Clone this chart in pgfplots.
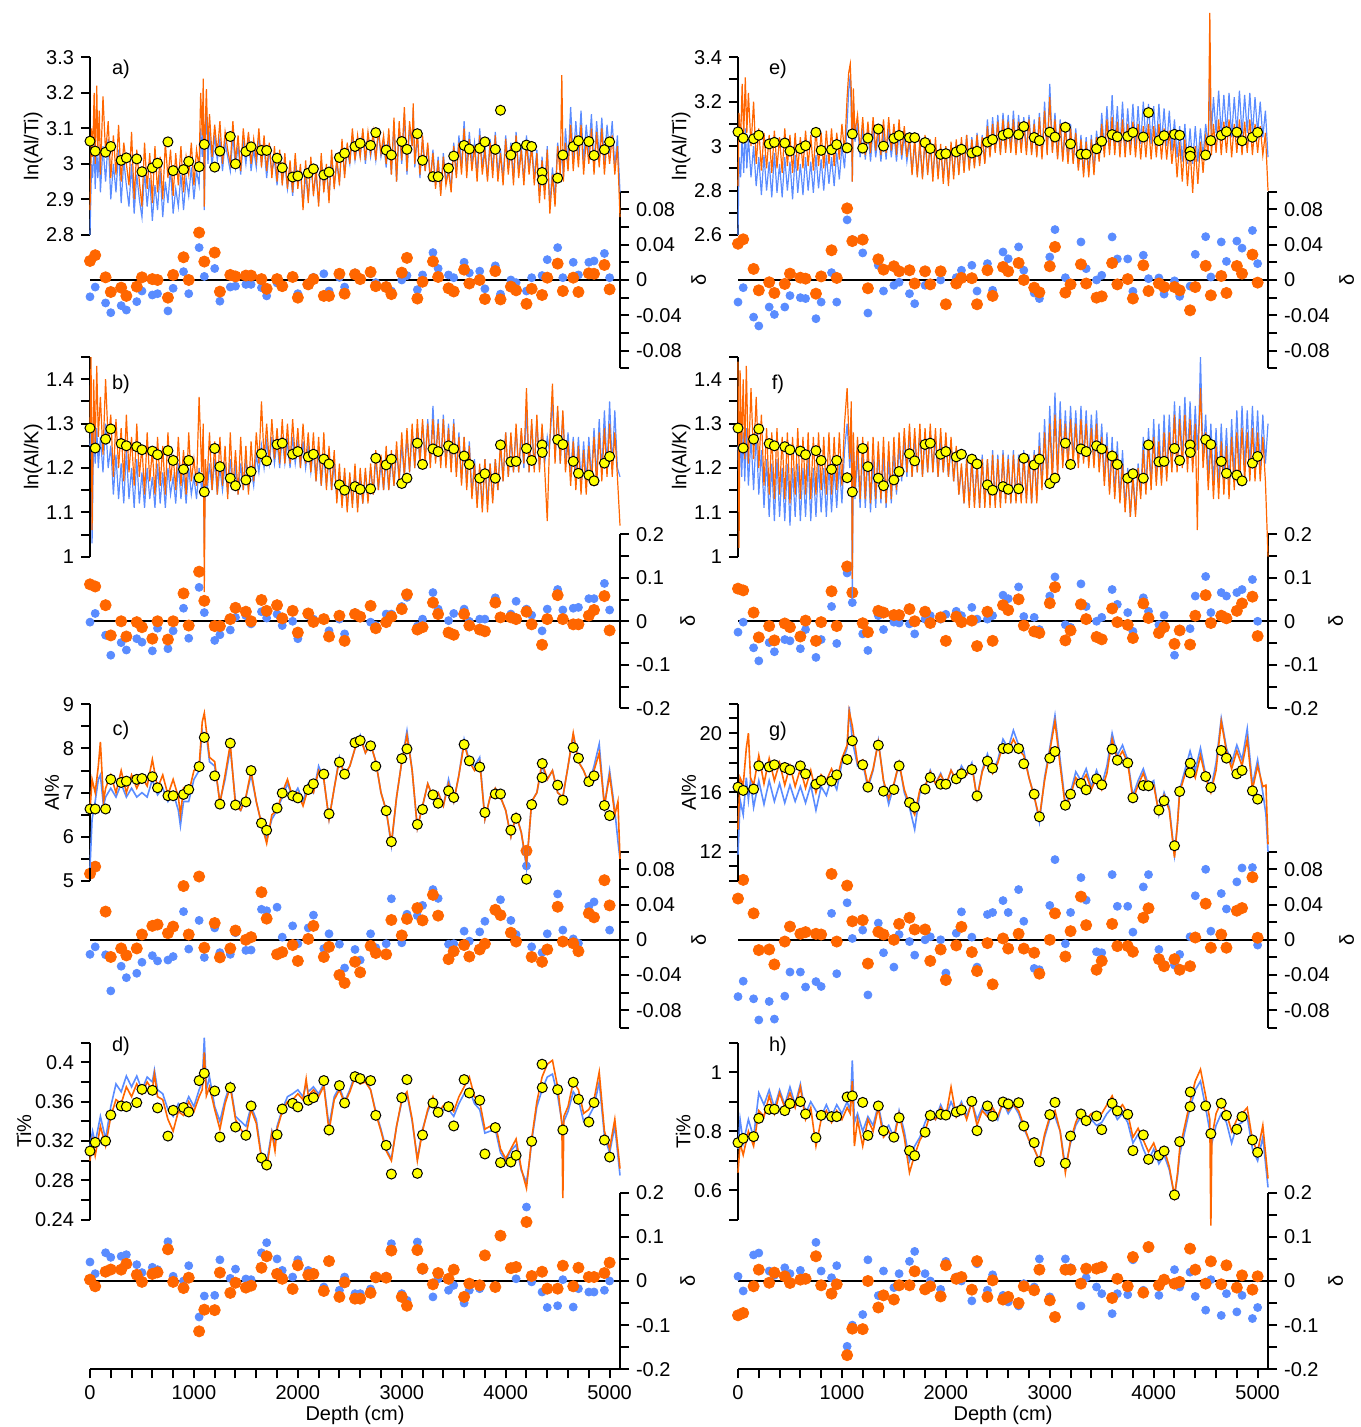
\documentclass[border=0pt]{standalone}
\usepackage{fontspec}
\setmainfont{Liberation Sans}
\usepackage{pgfplots}
\usepackage{pgfplotstable}
\pgfplotsset{compat=1.18}
\definecolor{blueC}{RGB}{90,140,255}
\definecolor{orangeC}{RGB}{255,102,0}
\definecolor{yellowC}{RGB}{255,255,0}

\pgfplotsset{
  base/.style={scale only axis, width=265pt, xmin=0, xmax=5100, clip=false,
    axis line style={line width=1pt}, every tick/.style={line width=1pt, black},
    major tick length=4.5pt, minor tick length=4.5pt,
    tick label style={font=\fontsize{10}{12}\selectfont},
    label style={font=\fontsize{10}{12}\selectfont},
    /pgf/number format/assume math mode=true, scaled y ticks=false,
    yticklabel style={/pgf/number format/fixed,/pgf/number format/precision=2}},
  curve/.style={base, axis y line*=left, axis x line=none, tick align=outside,
    ylabel style={yshift=-5pt}},
  delta/.style={base, axis y line*=right, tick align=outside, ylabel={δ},
    ylabel style={yshift=2pt}},
  dA/.style={delta, axis x line=none, ymin=-0.1, ymax=0.1, ytick={-0.08,-0.04,0,0.04,0.08},
    minor ytick={-0.1,-0.06,-0.02,0.02,0.06,0.1}},
  dB/.style={delta, ymin=-0.2, ymax=0.2, ytick={-0.2,-0.1,0,0.1,0.2},
    minor ytick={-0.15,-0.05,0.05,0.15}},
  nox/.style={axis x line=none},
  depthax/.style={axis x line*=bottom, xtick={0,1000,2000,3000,4000,5000},
    minor x tick num=4, xlabel={Depth (cm)}, xlabel style={yshift=3.5pt},
    xticklabel style={/pgf/number format/1000 sep={}}},
}
\newcommand{\twolines}[2]{%
  \addplot[blueC, line width=#2] table[x=d,y=B]{#1};
  \addplot[orangeC, line width=#2] table[x=d,y=O]{#1};}
\newcommand{\yeldots}[1]{%
  \addplot[only marks, mark=*, mark size=2.5pt, mark options={fill=yellowC, draw=black, line width=0.5pt}] table[x=dy,y=y]{#1};}
\newcommand{\deltadots}[1]{%
  \draw[line width=1pt] (axis cs:0,0) -- (axis cs:5100,0);
  \addplot[only marks, mark=*, mark size=2pt, blueC] table[x=dep,y=bl]{#1};
  \addplot[only marks, mark=*, mark size=2.8pt, orangeC] table[x=dep,y=or]{#1};}

% ---- curves (d = depth cm, B = blue, O = orange)
\pgfplotstableread{
d B O
0 2.80 2.87
15 3.00 3.10
25 2.96 3.02
40 3.06 3.20
50 2.93 3.00
65 3.05 3.22
75 2.96 3.04
90 3.03 3.15
100 2.92 2.97
125 3.05 3.19
150 2.95 3.03
175 3.07 3.12
200 2.90 2.96
225 3.00 3.08
250 2.92 2.97
275 3.04 3.11
300 2.89 2.95
325 3.01 3.06
350 2.94 3.00
375 2.88 2.94
400 3.00 3.09
425 2.86 2.90
450 2.97 3.04
475 2.90 2.95
500 2.85 2.88
525 2.98 3.06
550 2.88 2.93
575 2.96 3.03
600 2.84 2.89
625 2.94 3.05
650 2.87 2.92
675 2.98 3.02
700 2.85 2.90
725 2.95 3.06
750 2.89 2.96
775 2.99 3.04
800 2.86 2.91
825 2.93 3.03
850 2.88 2.94
875 2.97 3.05
900 2.87 2.92
925 2.96 3.02
950 2.91 2.97
975 2.99 3.06
1000 2.90 2.94
1025 2.98 3.04
1050 2.94 2.99
1065 3.10 3.20
1080 3.02 3.08
1090 3.16 3.24
1100 2.87 2.88
1110 3.08 3.12
1120 3.15 3.21
1135 3.00 3.05
1150 3.09 3.14
1175 2.99 3.02
1200 3.08 3.11
1225 3.01 3.03
1250 3.07 3.12
1275 2.98 3.00
1300 3.06 3.09
1325 3.02 3.04
1350 2.98 3.00
1375 3.08 3.12
1400 2.99 3.01
1425 3.05 3.08
1450 2.97 2.98
1475 3.06 3.10
1500 3.00 3.02
1525 3.08 3.09
1550 2.98 3.00
1575 3.04 3.07
1600 2.99 3.01
1625 3.08 3.10
1650 3.00 2.99
1675 3.05 3.08
1700 2.96 2.98
1725 3.04 3.06
1750 2.98 2.96
1775 3.01 3.05
1800 2.94 2.95
1825 3.03 3.04
1850 2.95 2.94
1875 3.00 3.03
1900 2.93 2.93
1925 2.99 3.01
1950 2.91 2.92
1975 3.00 3.03
2000 2.94 2.93
2025 2.98 3.00
2050 2.88 2.87
2075 2.97 3.01
2100 2.90 2.89
2125 3.00 3.02
2150 2.92 2.91
2175 2.97 2.99
2200 2.89 2.88
2225 3.01 3.03
2250 2.93 2.92
2275 2.98 3.00
2300 2.91 2.89
2325 3.02 3.04
2350 2.94 2.93
2375 3.00 3.02
2400 2.95 2.94
2425 3.06 3.07
2450 2.97 2.96
2475 3.04 3.06
2500 3.00 3.00
2525 3.08 3.10
2550 3.01 3.01
2575 3.06 3.08
2600 3.02 3.02
2625 3.09 3.10
2650 3.00 3.01
2675 3.08 3.09
2700 3.02 3.03
2725 3.07 3.09
2750 3.01 3.01
2775 3.09 3.10
2800 3.02 3.03
2825 3.06 3.08
2850 2.99 3.00
2875 3.08 3.10
2900 2.97 2.97
2925 3.11 3.13
2950 2.95 2.95
2975 3.09 3.12
3000 3.00 3.01
3025 3.14 3.16
3050 2.97 2.98
3075 3.10 3.12
3100 3.05 3.05
3110 3.15 3.17
3125 2.99 3.00
3150 3.08 3.09
3175 2.96 2.97
3200 3.07 3.08
3225 2.98 2.98
3250 3.05 3.06
3275 2.95 2.95
3300 3.04 3.03
3325 2.94 2.93
3350 3.02 3.01
3375 2.92 2.91
3400 3.03 3.02
3425 2.95 2.94
3450 2.99 2.98
3475 2.93 2.92
3500 3.06 3.05
3525 2.97 2.96
3550 3.08 3.06
3575 2.99 2.97
3600 3.12 3.10
3625 2.98 2.96
3650 3.09 3.07
3675 3.00 2.98
3700 3.06 3.05
3725 2.97 2.95
3750 3.10 3.08
3775 2.99 2.97
3800 3.05 3.04
3825 2.96 2.95
3850 3.07 3.06
3875 2.98 2.96
3900 3.09 3.08
3925 2.97 2.95
3950 3.04 3.03
3975 2.96 2.94
4000 3.08 3.07
4025 2.99 2.97
4050 3.06 3.05
4075 2.96 2.94
4100 3.09 3.08
4125 2.98 2.96
4150 3.05 3.04
4175 2.95 2.94
4200 3.08 3.06
4225 2.99 2.97
4250 3.06 3.05
4275 2.96 2.94
4300 3.04 3.03
4325 2.91 2.89
4350 3.02 3.01
4375 2.93 2.90
4400 3.05 3.04
4425 2.88 2.86
4450 2.99 2.97
4475 2.90 2.88
4500 3.06 3.05
4525 2.99 2.97
4540 3.04 3.25
4555 2.96 2.95
4575 3.10 3.06
4600 3.00 2.98
4625 3.16 3.11
4650 3.01 2.98
4675 3.12 3.08
4700 3.02 2.99
4725 3.15 3.11
4750 3.00 2.97
4775 3.11 3.07
4800 3.03 3.00
4825 3.14 3.10
4850 2.99 2.97
4875 3.12 3.09
4900 3.02 2.99
4925 3.13 3.10
4950 3.00 2.97
4975 3.11 3.07
5000 3.03 3.00
5025 3.12 3.08
5050 2.99 2.97
5075 3.08 3.05
5100 2.92 2.85
}\curA
\pgfplotstableread{
d B O
0 1.25 1.30
10 1.30 1.45
20 1.03 1.06
35 1.28 1.40
50 1.21 1.25
65 1.29 1.43
80 1.20 1.27
100 1.27 1.36
125 1.19 1.23
150 1.30 1.40
175 1.20 1.26
200 1.25 1.32
225 1.14 1.18
250 1.23 1.31
275 1.13 1.20
300 1.21 1.29
325 1.12 1.17
350 1.24 1.32
375 1.13 1.19
400 1.20 1.27
425 1.11 1.16
450 1.22 1.30
475 1.12 1.18
500 1.19 1.25
525 1.11 1.14
550 1.20 1.28
575 1.13 1.17
600 1.18 1.24
625 1.11 1.14
650 1.21 1.27
675 1.12 1.16
700 1.19 1.25
725 1.11 1.14
750 1.20 1.28
775 1.14 1.17
800 1.18 1.23
825 1.12 1.15
850 1.21 1.27
875 1.13 1.16
900 1.19 1.24
925 1.12 1.14
950 1.20 1.28
975 1.14 1.17
1000 1.18 1.22
1025 1.13 1.16
1050 1.20 1.36
1075 1.15 1.19
1090 1.18 1.30
1100 1.03 0.92
1110 1.20 1.22
1125 1.14 1.16
1150 1.21 1.28
1175 1.15 1.15
1200 1.22 1.26
1225 1.14 1.14
1250 1.20 1.27
1275 1.15 1.16
1300 1.21 1.25
1325 1.14 1.13
1350 1.22 1.28
1375 1.15 1.15
1400 1.20 1.24
1425 1.14 1.14
1450 1.21 1.27
1475 1.15 1.15
1500 1.22 1.25
1525 1.15 1.14
1550 1.20 1.26
1575 1.16 1.17
1600 1.23 1.28
1625 1.19 1.21
1650 1.25 1.35
1675 1.20 1.22
1700 1.26 1.30
1725 1.21 1.21
1750 1.27 1.31
1775 1.21 1.22
1800 1.26 1.29
1825 1.20 1.21
1850 1.27 1.31
1875 1.21 1.21
1900 1.26 1.30
1925 1.20 1.21
1950 1.27 1.31
1975 1.21 1.22
2000 1.26 1.29
2025 1.20 1.20
2050 1.26 1.30
2075 1.20 1.21
2100 1.25 1.28
2125 1.19 1.19
2150 1.24 1.28
2175 1.17 1.17
2200 1.24 1.27
2225 1.16 1.16
2250 1.23 1.28
2275 1.16 1.15
2300 1.22 1.25
2325 1.15 1.15
2350 1.21 1.24
2375 1.13 1.12
2400 1.19 1.21
2425 1.12 1.11
2450 1.19 1.20
2475 1.11 1.10
2500 1.18 1.19
2525 1.12 1.11
2550 1.19 1.21
2575 1.11 1.10
2600 1.18 1.20
2625 1.12 1.12
2650 1.19 1.20
2675 1.13 1.12
2700 1.20 1.21
2725 1.14 1.14
2750 1.22 1.24
2775 1.15 1.15
2800 1.21 1.23
2825 1.15 1.15
2850 1.22 1.25
2875 1.15 1.15
2900 1.22 1.24
2925 1.16 1.16
2950 1.24 1.26
2975 1.17 1.17
3000 1.25 1.28
3025 1.18 1.18
3050 1.27 1.29
3075 1.19 1.19
3100 1.28 1.30
3125 1.20 1.20
3150 1.29 1.31
3175 1.21 1.21
3200 1.30 1.31
3225 1.22 1.21
3250 1.31 1.30
3275 1.21 1.20
3300 1.34 1.31
3325 1.22 1.21
3350 1.31 1.30
3375 1.21 1.20
3400 1.32 1.31
3425 1.21 1.20
3450 1.30 1.29
3475 1.20 1.19
3500 1.31 1.30
3525 1.19 1.18
3550 1.28 1.27
3575 1.17 1.16
3600 1.27 1.27
3625 1.16 1.15
3650 1.26 1.25
3675 1.14 1.13
3700 1.22 1.21
3725 1.12 1.11
3750 1.20 1.21
3775 1.11 1.10
3800 1.22 1.22
3825 1.12 1.10
3850 1.21 1.21
3875 1.13 1.12
3900 1.22 1.22
3925 1.15 1.15
3950 1.25 1.26
3975 1.17 1.17
4000 1.28 1.28
4025 1.18 1.18
4050 1.27 1.28
4075 1.19 1.19
4100 1.29 1.30
4125 1.19 1.19
4150 1.28 1.29
4175 1.20 1.21
4200 1.33 1.38
4225 1.19 1.19
4250 1.30 1.31
4275 1.20 1.19
4300 1.31 1.32
4325 1.20 1.19
4350 1.29 1.30
4375 1.21 1.20
4400 1.27 1.08
4420 1.24 1.24
4450 1.35 1.39
4475 1.22 1.21
4500 1.33 1.34
4525 1.21 1.21
4550 1.32 1.33
4575 1.21 1.19
4600 1.28 1.26
4625 1.19 1.16
4650 1.27 1.26
4675 1.18 1.15
4700 1.27 1.25
4725 1.17 1.14
4750 1.26 1.24
4775 1.17 1.14
4800 1.27 1.25
4825 1.18 1.16
4850 1.29 1.27
4875 1.18 1.16
4900 1.31 1.28
4925 1.19 1.17
4950 1.33 1.29
4975 1.20 1.18
5000 1.35 1.30
5025 1.20 1.18
5050 1.33 1.28
5075 1.20 1.18
5100 1.18 1.07
}\curB
\pgfplotstableread{
d B O
0 5.30 6.60
20 6.40 7.30
50 6.80 7.00
80 7.30 7.60
100 7.40 8.15
130 6.70 6.80
150 6.90 7.10
200 7.10 7.40
250 6.90 7.00
300 7.20 7.50
350 6.90 7.00
400 7.10 7.40
450 6.90 7.10
500 7.00 7.35
550 6.90 7.15
600 7.30 7.75
650 6.95 7.10
700 7.10 7.40
750 6.80 6.95
800 7.00 7.30
850 6.60 6.90
870 6.25 6.50
900 6.80 7.10
950 6.80 7.00
1000 7.30 7.50
1050 7.50 7.60
1080 8.40 8.60
1100 8.20 8.80
1120 8.30 8.40
1150 7.70 7.80
1200 7.60 7.70
1250 6.80 6.75
1300 7.30 7.40
1350 8.00 8.10
1400 6.80 6.70
1450 6.60 6.60
1500 6.90 6.90
1550 7.40 7.50
1600 6.80 6.80
1650 6.30 6.30
1700 5.95 5.85
1750 6.40 6.50
1800 6.60 6.60
1850 6.90 7.00
1900 7.20 7.30
1950 6.90 6.90
2000 7.10 7.00
2050 6.80 6.70
2100 7.20 7.10
2150 7.00 7.00
2200 7.60 7.50
2250 7.30 7.30
2300 6.40 6.40
2350 7.10 7.10
2400 7.80 7.75
2450 7.40 7.40
2500 7.60 7.60
2550 8.00 8.00
2600 8.30 8.25
2650 7.90 7.90
2700 8.10 8.10
2750 7.70 7.70
2800 7.00 7.00
2850 6.60 6.60
2900 5.80 5.85
2950 6.90 6.90
3000 7.70 7.70
3050 8.40 8.30
3100 7.50 7.50
3150 6.20 6.20
3200 6.70 6.70
3250 7.20 7.20
3300 6.90 6.90
3350 7.00 7.00
3400 6.70 6.70
3450 7.30 7.20
3500 6.80 6.80
3550 7.40 7.40
3600 8.20 8.10
3650 7.70 7.70
3700 7.60 7.50
3750 7.80 7.70
3800 6.40 6.40
3850 6.90 6.90
3900 7.10 7.10
3950 6.90 6.90
4000 6.60 6.60
4050 6.00 6.00
4100 6.50 6.50
4150 6.10 6.10
4200 5.30 5.40
4220 5.90 5.90
4250 6.80 6.80
4300 7.00 7.00
4350 7.60 7.70
4400 7.30 7.30
4450 7.50 7.50
4500 7.00 7.00
4550 6.90 6.90
4600 7.60 7.60
4650 8.30 8.35
4700 7.70 7.70
4750 7.50 7.50
4800 7.20 7.20
4850 7.60 7.50
4900 8.10 7.90
4950 6.70 6.70
5000 7.50 7.40
5050 6.60 6.50
5080 5.90 6.80
5100 5.50 5.50
}\curC
\pgfplotstableread{
d B O
0 0.315 0.300
25 0.330 0.320
50 0.318 0.305
100 0.345 0.335
150 0.322 0.315
200 0.355 0.345
250 0.378 0.362
300 0.370 0.358
350 0.386 0.375
400 0.375 0.365
450 0.386 0.378
500 0.372 0.368
550 0.385 0.380
600 0.380 0.372
620 0.392 0.388
650 0.372 0.365
700 0.368 0.362
750 0.352 0.342
800 0.345 0.330
850 0.358 0.350
900 0.352 0.346
950 0.365 0.360
1000 0.355 0.350
1050 0.372 0.365
1080 0.380 0.372
1100 0.425 0.410
1120 0.372 0.366
1150 0.385 0.375
1200 0.355 0.352
1250 0.340 0.332
1300 0.362 0.358
1350 0.378 0.375
1400 0.345 0.342
1450 0.340 0.332
1500 0.335 0.325
1550 0.355 0.352
1600 0.342 0.338
1650 0.305 0.302
1700 0.298 0.292
1750 0.330 0.328
1780 0.318 0.310
1800 0.335 0.332
1850 0.352 0.350
1900 0.365 0.360
1950 0.368 0.362
2000 0.372 0.368
2050 0.365 0.362
2080 0.378 0.383
2100 0.370 0.366
2150 0.375 0.372
2200 0.368 0.365
2250 0.378 0.376
2300 0.335 0.330
2350 0.365 0.362
2400 0.375 0.372
2450 0.360 0.358
2500 0.372 0.370
2550 0.388 0.385
2600 0.378 0.378
2650 0.382 0.380
2700 0.372 0.372
2750 0.350 0.348
2800 0.332 0.330
2850 0.312 0.310
2900 0.302 0.300
2950 0.335 0.335
3000 0.360 0.362
3050 0.368 0.370
3100 0.340 0.342
3150 0.302 0.300
3200 0.332 0.330
3250 0.350 0.352
3300 0.362 0.365
3350 0.345 0.348
3400 0.352 0.356
3450 0.352 0.358
3500 0.345 0.350
3550 0.358 0.365
3600 0.368 0.375
3650 0.372 0.385
3700 0.358 0.365
3750 0.352 0.360
3800 0.328 0.332
3850 0.330 0.335
3900 0.332 0.338
3950 0.308 0.312
4000 0.300 0.302
4050 0.310 0.312
4100 0.316 0.322
4150 0.290 0.292
4200 0.278 0.272
4230 0.300 0.302
4250 0.320 0.322
4300 0.355 0.360
4350 0.372 0.385
4400 0.385 0.398
4450 0.388 0.402
4500 0.366 0.375
4540 0.340 0.338
4550 0.338 0.262
4560 0.340 0.345
4600 0.350 0.355
4650 0.370 0.380
4700 0.362 0.372
4750 0.340 0.348
4800 0.345 0.352
4850 0.355 0.362
4900 0.380 0.390
4950 0.325 0.330
5000 0.308 0.312
5050 0.335 0.342
5100 0.285 0.292
}\curD
\pgfplotstableread{
d B O
0 2.60 2.82
10 2.95 3.15
25 2.86 3.02
40 3.05 3.28
55 2.88 3.04
70 3.08 3.31
85 2.90 3.06
100 3.04 3.24
125 2.86 3.00
150 3.00 3.20
175 2.82 2.92
200 2.95 3.08
225 2.78 2.89
250 2.96 3.06
275 2.80 2.90
300 2.93 3.05
325 2.77 2.88
350 2.97 3.07
375 2.79 2.90
400 2.92 3.04
425 2.77 2.88
450 2.95 3.08
475 2.80 2.91
500 2.93 3.05
525 2.76 2.88
550 2.96 3.06
575 2.79 2.89
600 2.92 3.04
625 2.78 2.90
650 2.95 3.07
675 2.80 2.91
700 2.93 3.05
725 2.79 2.89
750 2.96 3.08
775 2.81 2.91
800 2.94 3.06
825 2.80 2.90
850 2.96 3.07
875 2.83 2.92
900 2.95 3.08
925 2.82 2.91
950 2.97 3.06
975 2.85 2.94
1000 3.00 3.10
1025 2.90 2.97
1050 3.10 3.22
1065 3.25 3.33
1080 3.32 3.37
1090 3.15 3.25
1100 2.84 2.84
1110 3.20 3.26
1125 3.02 3.06
1150 3.10 3.14
1175 2.95 2.98
1200 3.08 3.13
1225 2.94 2.96
1250 3.07 3.11
1275 2.93 2.97
1300 3.08 3.13
1325 2.95 2.98
1350 3.06 3.10
1375 2.93 2.96
1400 3.07 3.12
1425 2.94 2.97
1450 3.08 3.13
1475 2.95 2.98
1500 3.06 3.10
1525 2.93 2.96
1550 3.07 3.12
1575 2.94 2.96
1600 3.05 3.09
1625 2.93 2.95
1650 3.02 3.05
1675 2.88 2.87
1700 3.01 3.04
1725 2.87 2.86
1750 3.00 3.03
1775 2.86 2.85
1800 3.02 3.05
1825 2.88 2.87
1850 3.00 3.03
1875 2.86 2.84
1900 3.01 3.04
1925 2.87 2.85
1950 2.99 3.01
1975 2.86 2.83
2000 2.98 3.00
2025 2.85 2.82
2050 3.00 3.02
2075 2.87 2.85
2100 3.01 3.03
2125 2.88 2.87
2150 3.02 3.04
2175 2.89 2.88
2200 3.05 3.05
2225 2.90 2.89
2250 3.04 3.03
2275 2.91 2.90
2300 3.06 3.05
2325 2.92 2.91
2350 3.05 3.04
2375 2.93 2.92
2400 3.12 3.09
2425 2.96 2.95
2450 3.13 3.10
2475 2.98 2.97
2500 3.14 3.11
2525 2.97 2.96
2550 3.15 3.12
2575 2.99 2.97
2600 3.14 3.11
2625 2.98 2.97
2650 3.16 3.12
2675 2.98 2.96
2700 3.14 3.11
2725 2.99 2.97
2750 3.13 3.11
2775 2.98 2.96
2800 3.14 3.12
2825 2.97 2.96
2850 3.12 3.10
2875 2.96 2.95
2900 3.15 3.13
2925 2.95 2.94
2950 3.20 3.16
2975 2.97 2.96
3000 3.28 3.22
3025 2.98 2.97
3050 3.15 3.12
3075 2.95 2.94
3100 3.12 3.10
3125 2.94 2.93
3150 3.11 3.09
3175 2.93 2.92
3200 3.10 3.08
3225 2.93 2.92
3250 3.08 3.06
3275 2.90 2.89
3300 3.05 3.03
3325 2.88 2.86
3350 3.04 3.02
3375 2.88 2.86
3400 3.05 3.03
3425 2.89 2.87
3450 3.07 3.04
3475 2.95 2.93
3500 3.15 3.10
3525 2.98 2.95
3550 3.18 3.12
3575 2.99 2.96
3600 3.23 3.13
3625 3.00 2.96
3650 3.18 3.11
3675 2.99 2.95
3700 3.20 3.12
3725 2.98 2.95
3750 3.17 3.10
3775 3.00 2.96
3800 3.19 3.11
3825 3.00 2.95
3850 3.18 3.10
3875 3.01 2.94
3900 3.20 3.09
3925 3.02 2.95
3950 3.19 3.10
3975 3.01 2.94
4000 3.18 3.09
4025 3.00 2.95
4050 3.19 3.10
4075 3.01 2.94
4100 3.17 3.08
4125 3.00 2.94
4150 3.16 3.07
4175 2.98 2.92
4200 3.12 3.04
4225 2.95 2.86
4250 3.09 3.02
4275 2.93 2.84
4300 3.10 3.03
4325 2.92 2.82
4350 3.08 2.99
4375 2.92 2.79
4400 3.09 3.00
4425 2.93 2.83
4450 3.08 3.02
4475 2.95 2.88
4500 3.10 3.04
4525 3.00 2.96
4540 3.28 3.60
4555 3.05 2.96
4575 3.22 3.10
4600 3.06 2.97
4625 3.25 3.12
4650 3.05 2.96
4675 3.23 3.11
4700 3.06 2.97
4725 3.24 3.12
4750 3.04 2.95
4775 3.22 3.10
4800 3.06 2.97
4825 3.25 3.12
4850 3.05 2.96
4875 3.23 3.11
4900 3.06 2.97
4925 3.24 3.12
4950 3.05 2.96
4975 3.22 3.10
5000 3.06 2.97
5025 3.20 3.09
5050 3.04 2.96
5075 3.16 3.06
5100 2.95 2.80
}\curE
\pgfplotstableread{
d B O
0 1.25 1.44
10 1.15 1.02
20 1.30 1.42
35 1.18 1.24
50 1.28 1.40
65 1.17 1.22
80 1.29 1.43
100 1.16 1.21
125 1.27 1.38
150 1.15 1.22
175 1.28 1.36
200 1.14 1.20
225 1.24 1.32
250 1.11 1.16
275 1.22 1.29
300 1.09 1.14
325 1.21 1.28
350 1.08 1.13
375 1.22 1.29
400 1.09 1.14
425 1.20 1.27
450 1.08 1.13
475 1.21 1.28
500 1.07 1.12
525 1.20 1.27
550 1.09 1.14
575 1.21 1.29
600 1.08 1.13
625 1.20 1.27
650 1.09 1.14
675 1.22 1.28
700 1.08 1.13
725 1.20 1.27
750 1.09 1.14
775 1.21 1.28
800 1.10 1.15
825 1.20 1.27
850 1.09 1.14
875 1.21 1.28
900 1.10 1.14
925 1.20 1.27
950 1.11 1.15
975 1.21 1.28
1000 1.12 1.16
1025 1.24 1.30
1050 1.30 1.38
1075 1.20 1.22
1090 1.33 1.35
1100 0.90 0.95
1110 1.25 1.28
1125 1.13 1.15
1150 1.23 1.27
1175 1.11 1.13
1200 1.24 1.27
1225 1.11 1.13
1250 1.23 1.26
1275 1.10 1.12
1300 1.22 1.27
1325 1.11 1.13
1350 1.24 1.26
1375 1.12 1.13
1400 1.23 1.27
1425 1.11 1.12
1450 1.22 1.26
1475 1.12 1.13
1500 1.24 1.27
1525 1.14 1.15
1550 1.25 1.28
1575 1.17 1.18
1600 1.27 1.29
1625 1.18 1.19
1650 1.28 1.30
1675 1.18 1.18
1700 1.27 1.29
1725 1.19 1.19
1750 1.28 1.30
1775 1.18 1.18
1800 1.27 1.29
1825 1.19 1.19
1850 1.28 1.30
1875 1.19 1.19
1900 1.27 1.29
1925 1.18 1.18
1950 1.27 1.29
1975 1.19 1.19
2000 1.26 1.28
2025 1.18 1.18
2050 1.25 1.27
2075 1.17 1.17
2100 1.24 1.25
2125 1.14 1.14
2150 1.20 1.21
2175 1.12 1.12
2200 1.22 1.22
2225 1.12 1.11
2250 1.23 1.22
2275 1.12 1.11
2300 1.22 1.21
2325 1.11 1.11
2350 1.23 1.22
2375 1.12 1.11
2400 1.22 1.22
2425 1.12 1.11
2450 1.24 1.23
2475 1.12 1.11
2500 1.23 1.22
2525 1.12 1.11
2550 1.24 1.23
2575 1.13 1.12
2600 1.23 1.22
2625 1.12 1.12
2650 1.24 1.23
2675 1.13 1.12
2700 1.23 1.22
2725 1.13 1.12
2750 1.24 1.23
2775 1.13 1.12
2800 1.23 1.22
2825 1.12 1.12
2850 1.24 1.23
2875 1.13 1.12
2900 1.28 1.25
2925 1.16 1.15
2950 1.31 1.28
2975 1.17 1.16
3000 1.34 1.30
3025 1.18 1.17
3050 1.37 1.32
3075 1.19 1.18
3100 1.35 1.31
3125 1.21 1.20
3150 1.33 1.30
3175 1.21 1.20
3200 1.34 1.31
3225 1.22 1.21
3250 1.33 1.30
3275 1.21 1.20
3300 1.34 1.31
3325 1.22 1.21
3350 1.33 1.30
3375 1.21 1.20
3400 1.32 1.29
3425 1.21 1.20
3450 1.33 1.30
3475 1.20 1.19
3500 1.30 1.27
3525 1.17 1.16
3550 1.28 1.25
3575 1.15 1.14
3600 1.27 1.24
3625 1.14 1.13
3650 1.26 1.23
3675 1.13 1.12
3700 1.24 1.21
3725 1.11 1.10
3750 1.20 1.19
3775 1.09 1.09
3800 1.19 1.18
3825 1.10 1.09
3850 1.21 1.20
3875 1.14 1.13
3900 1.27 1.24
3925 1.15 1.14
3950 1.29 1.26
3975 1.16 1.15
4000 1.31 1.27
4025 1.17 1.16
4050 1.30 1.26
4075 1.17 1.16
4100 1.32 1.28
4125 1.18 1.17
4150 1.32 1.28
4175 1.20 1.19
4200 1.35 1.32
4225 1.21 1.19
4250 1.34 1.31
4275 1.22 1.20
4300 1.36 1.32
4325 1.22 1.19
4350 1.35 1.31
4375 1.22 1.19
4400 1.34 1.30
4420 1.24 1.06
4435 1.30 1.28
4450 1.45 1.38
4475 1.22 1.20
4500 1.32 1.28
4525 1.18 1.15
4550 1.30 1.26
4575 1.16 1.13
4600 1.29 1.25
4625 1.16 1.13
4650 1.30 1.26
4675 1.17 1.14
4700 1.29 1.25
4725 1.16 1.13
4750 1.31 1.27
4775 1.18 1.15
4800 1.33 1.28
4825 1.19 1.16
4850 1.34 1.29
4875 1.20 1.17
4900 1.33 1.28
4925 1.20 1.17
4950 1.34 1.29
4975 1.21 1.17
5000 1.33 1.28
5025 1.20 1.17
5050 1.32 1.27
5075 1.21 1.17
5100 1.30 1.00
}\curF
\pgfplotstableread{
d B O
0 11.8 13.5
20 15.5 17.0
50 14.5 16.5
80 17.0 19.0
100 15.5 20.0
120 16.8 17.0
150 15.0 16.5
200 16.8 18.5
250 15.2 16.6
300 16.8 18.3
350 15.4 16.8
400 16.6 18.0
450 15.3 16.5
500 16.5 17.8
550 15.4 16.4
600 16.4 17.6
650 15.3 16.3
700 16.5 17.5
750 14.8 16.0
800 16.4 17.2
850 15.8 16.8
900 17.0 17.6
950 16.2 16.8
1000 18.0 18.3
1050 19.0 19.2
1070 21.8 21.5
1100 19.5 20.5
1150 17.8 18.0
1200 18.0 18.2
1250 16.3 16.5
1300 17.5 17.6
1350 19.5 19.4
1400 16.8 16.8
1450 15.2 15.6
1500 16.5 16.6
1550 18.0 18.0
1600 16.0 16.2
1650 15.0 15.2
1700 13.5 14.5
1750 16.0 16.2
1800 16.3 16.4
1850 17.5 17.4
1900 16.6 16.6
1950 17.3 17.2
2000 16.4 16.5
2050 17.5 17.5
2100 16.8 16.8
2150 17.8 17.6
2200 17.2 17.2
2250 18.0 17.8
2300 15.6 15.6
2350 17.5 17.4
2400 18.6 18.3
2450 17.4 17.3
2500 18.2 18.0
2550 19.6 19.2
2600 19.0 18.8
2650 20.2 19.6
2700 19.2 18.9
2750 18.8 18.5
2800 17.0 17.0
2850 15.8 15.7
2900 14.0 14.3
2950 17.0 16.8
3000 19.0 18.8
3050 21.2 20.8
3100 18.2 17.8
3150 15.2 15.0
3200 16.0 15.8
3250 17.4 17.0
3300 16.8 16.6
3350 17.6 17.2
3400 16.4 16.2
3450 17.5 17.0
3500 16.5 16.2
3550 17.8 17.3
3600 20.0 19.6
3650 18.5 18.2
3700 19.2 18.8
3750 18.2 18.0
3800 15.8 15.5
3850 16.8 16.5
3900 17.6 17.3
3950 16.5 16.3
4000 16.8 16.5
4050 14.5 14.6
4100 16.0 15.8
4150 15.0 14.8
4200 11.8 11.6
4230 14.0 14.0
4250 16.2 16.0
4300 17.5 17.2
4350 18.8 18.0
4400 17.5 17.0
4450 19.0 18.5
4500 17.2 17.0
4550 16.2 16.0
4600 18.0 17.5
4650 21.0 20.8
4700 19.0 18.8
4750 18.0 17.6
4800 19.2 18.8
4850 18.2 17.8
4900 20.3 19.6
4950 16.5 16.2
5000 18.2 17.8
5050 16.0 16.4
5080 14.5 16.5
5100 12.0 12.5
}\curG
\pgfplotstableread{
d B O
0 0.74 0.66
20 0.84 0.76
50 0.76 0.72
100 0.84 0.80
150 0.78 0.75
200 0.93 0.87
250 0.89 0.85
300 0.94 0.92
350 0.88 0.86
400 0.94 0.93
450 0.89 0.88
500 0.95 0.93
550 0.89 0.88
600 0.96 0.95
650 0.86 0.84
700 0.90 0.88
750 0.87 0.75
800 0.85 0.84
850 0.89 0.87
900 0.85 0.83
950 0.89 0.87
1000 0.86 0.84
1050 0.90 0.88
1080 0.87 0.86
1100 1.04 0.97
1120 0.83 0.75
1150 0.86 0.84
1200 0.80 0.75
1250 0.85 0.84
1300 0.82 0.80
1350 0.89 0.88
1400 0.80 0.78
1450 0.82 0.80
1500 0.78 0.77
1550 0.87 0.86
1600 0.80 0.78
1650 0.70 0.66
1700 0.75 0.72
1750 0.78 0.77
1800 0.83 0.80
1850 0.87 0.86
1900 0.84 0.84
1950 0.89 0.88
2000 0.85 0.85
2050 0.90 0.95
2100 0.86 0.85
2150 0.90 0.89
2200 0.85 0.84
2250 0.90 0.90
2300 0.84 0.82
2350 0.88 0.87
2400 0.86 0.85
2450 0.88 0.88
2500 0.84 0.85
2550 0.90 0.90
2600 0.86 0.87
2650 0.89 0.89
2700 0.86 0.87
2750 0.81 0.82
2800 0.77 0.77
2850 0.74 0.74
2900 0.70 0.70
2950 0.78 0.79
3000 0.84 0.85
3050 0.85 0.87
3100 0.80 0.80
3150 0.68 0.66
3200 0.76 0.77
3250 0.82 0.83
3300 0.85 0.87
3350 0.82 0.84
3400 0.84 0.86
3450 0.82 0.85
3500 0.83 0.86
3550 0.86 0.89
3600 0.88 0.92
3650 0.84 0.87
3700 0.86 0.89
3750 0.83 0.86
3800 0.76 0.78
3850 0.79 0.81
3900 0.74 0.77
3950 0.70 0.73
4000 0.74 0.76
4050 0.69 0.71
4100 0.72 0.74
4150 0.67 0.68
4200 0.58 0.58
4230 0.65 0.66
4250 0.72 0.74
4300 0.80 0.82
4350 0.88 0.90
4400 0.94 0.97
4450 0.97 1.01
4500 0.88 0.92
4540 0.80 0.84
4550 0.78 0.48
4560 0.76 0.78
4600 0.82 0.86
4650 0.86 0.90
4700 0.83 0.86
4750 0.76 0.80
4800 0.82 0.84
4850 0.83 0.86
4900 0.85 0.88
4950 0.74 0.77
5000 0.70 0.73
5050 0.78 0.82
5100 0.61 0.64
}\curH

% ---- samples: dep = depth, dy = depth of yellow dot, y = reference, bl/or = delta
\pgfplotstableread{
dep dy y bl or
0 0 3.064 -0.019 0.0215
50 50 3.036 -0.008 0.028
150 150 3.033 -0.026 0.003
200 200 3.049 -0.037 -0.0136
300 300 3.010 -0.029 -0.0087
350 350 3.017 -0.034 -0.018
450 450 3.014 -0.0245 -0.0075
500 500 2.978 -0.0125 0.003
600 600 2.989 -0.017 0.001
650 650 3.002 -0.0155 0
750 750 3.062 -0.035 -0.020
800 800 2.981 -0.0094 0.0057
900 900 2.984 0.0094 0.0257
950 950 3.007 -0.0155 0
1050 1050 2.992 0.0366 0.0536
1100 1100 3.055 0.004 0.0208
1200 1200 2.991 0.013 0.031
1250 1250 3.036 -0.024 -0.0132
1350 1350 3.077 -0.008 0.0057
1400 1400 3.000 -0.007 0.004
1500 1500 3.035 -0.005 0.005
1550 1550 3.048 -0.005 0.005
1650 1650 3.038 -0.0087 0.001
1700 1700 3.038 -0.018 -0.010
1800 1800 3.016 -0.0034 0.001
1850 1850 2.989 -0.008 -0.007
1950 1950 2.963 0.0026 0.0034
2000 2000 2.966 -0.0155 -0.020
2100 2100 2.974 -0.003 -0.005
2150 2150 2.986 0.003 0.001
2250 2250 2.969 0.007 -0.018
2300 2300 2.977 -0.0125 -0.018
2400 2400 3.018 0.003 0.007
2450 2450 3.030 -0.008 -0.0155
2550 2550 3.049 0.008 0.0064
2600 2600 3.058 0.001 0.001
2700 2700 3.052 0.007 0.009
2750 2750 3.088 -0.003 -0.007
2850 2850 3.039 -0.0064 -0.008
2900 2900 3.025 -0.0125 -0.016
3000 3000 3.063 0 0.0083
3050 3050 3.041 0.005 0.025
3150 3150 3.085 -0.011 -0.021
3200 3200 3.010 0.0057 -0.002
3300 3300 2.964 0.031 0.021
3350 3350 2.964 0.013 0.0034
3450 3450 2.988 0.0057 -0.0094
3500 3500 3.022 0.0026 -0.013
3600 3600 3.052 0.020 0.0117
3650 3650 3.042 0.008 -0.004
3750 3750 3.044 0.010 0
3800 3800 3.062 -0.010 -0.0215
3900 3900 3.041 0.016 0.010
3950 3950 3.151 -0.016 -0.022
4050 4050 3.025 0 -0.0075
4100 4100 3.047 -0.003 -0.0117
4200 4200 3.053 -0.0125 -0.027
4250 4250 3.049 0.0026 -0.010
4350 4350 2.976 0.005 -0.017
4400 4352 2.955 0.023 0.0026
4500 4500 2.960 0.0366 0.0185
4550 4550 3.025 0.0026 -0.0125
4650 4650 3.049 0.020 0.0026
4700 4700 3.065 0.0057 -0.0136
4800 4800 3.063 0.020 0.0075
4850 4850 3.024 0.0215 0.007
4950 4950 3.040 0.030 0.017
5000 5000 3.062 0.0026 -0.0106
}\ptA
\pgfplotstableread{
dep dy y bl or
0 0 1.290 -0.002 0.085
50 50 1.245 0.018 0.080
150 150 1.265 -0.032 0.037
200 200 1.288 -0.078 -0.0325
300 300 1.255 -0.049 0
350 350 1.250 -0.066 -0.035
450 450 1.248 -0.040 -0.002
500 500 1.241 -0.048 -0.0136
600 600 1.238 -0.068 -0.040
650 650 1.230 -0.016 0
750 750 1.239 -0.063 -0.042
800 800 1.217 -0.022 0
900 900 1.197 0.030 0.064
950 950 1.217 -0.039 -0.0098
1050 1050 1.178 0.078 0.114
1100 1100 1.146 0.020 0.047
1200 1200 1.244 -0.044 -0.011
1250 1250 1.203 -0.031 -0.011
1350 1350 1.177 -0.020 0.005
1400 1400 1.160 0.009 0.031
1500 1500 1.173 0.013 0.022
1550 1550 1.192 -0.006 0
1650 1650 1.232 0.022 0.049
1700 1700 1.216 0.0075 0.024
1800 1800 1.253 0.0166 0.037
1850 1850 1.256 -0.0098 0.0068
1950 1950 1.231 0 0.024
2000 2000 1.237 -0.040 -0.026
2100 2100 1.225 0.013 0.018
2150 2150 1.231 0.005 -0.0015
2250 2250 1.220 0.004 0.005
2300 2300 1.209 -0.022 -0.035
2400 2400 1.162 0.005 0.0128
2450 2450 1.150 -0.029 -0.045
2550 2550 1.158 0.020 0.0166
2600 2600 1.152 0.009 0.0106
2700 2700 1.153 -0.002 0.0355
2750 2750 1.222 -0.0098 -0.016
2850 2850 1.207 0.0166 -0.002
2900 2900 1.220 0.0166 0.0106
3000 3000 1.165 0.034 0.028
3050 3050 1.177 0.055 0.062
3150 3150 1.256 -0.011 -0.019
3200 3200 1.208 0.005 -0.0136
3300 3300 1.243 0.066 0.043
3350 3350 1.237 0.028 0.0166
3450 3450 1.250 0.0015 -0.026
3500 3500 1.243 0.018 -0.031
3600 3600 1.227 0.028 0.0166
3650 3650 1.208 0 -0.0098
3750 3750 1.177 0.005 -0.019
3800 3800 1.187 0.005 -0.023
3900 3900 1.177 0.054 0.043
3950 3950 1.252 0.008 0.009
4050 4050 1.214 0.0166 0.009
4100 4100 1.215 0.046 0.005
4200 4200 1.244 0.028 0.022
4250 4250 1.217 0.014 -0.007
4350 4350 1.252 -0.022 -0.054
4400 4352 1.235 0.028 0.005
4500 4500 1.264 0.073 0.060
4550 4550 1.253 0.026 0.005
4650 4650 1.215 0.030 -0.007
4700 4700 1.188 0.032 -0.007
4800 4800 1.184 0.052 0.013
4850 4850 1.171 0.052 0.026
4950 4950 1.211 0.087 0.058
5000 5000 1.226 0.026 -0.021
}\ptB
\pgfplotstableread{
dep dy y bl or
0 0 6.63 -0.0165 0.075
50 50 6.63 -0.008 0.083
150 150 6.63 -0.017 0.032
200 200 7.30 -0.058 -0.0195
300 300 7.23 -0.030 -0.0098
350 350 7.26 -0.043 -0.0177
450 450 7.30 -0.038 -0.0098
500 500 7.32 -0.0255 0.006
600 600 7.36 -0.018 0.0158
650 650 7.11 -0.024 0.0173
750 750 6.93 -0.023 0.0075
800 800 6.93 -0.019 0.015
900 900 6.96 0.032 0.061
950 950 7.07 -0.0105 0.006
1050 1050 7.59 0.022 0.0718
1100 1100 8.25 -0.020 -0.009
1200 1200 7.38 0.0135 0.019
1250 1250 6.74 -0.0146 -0.020
1350 1350 8.12 -0.0165 -0.0098
1400 1400 6.72 0.008 0.0105
1500 1500 6.79 -0.012 0
1550 1550 7.50 -0.0116 0.003
1650 1650 6.31 0.0346 0.054
1700 1700 6.15 0.033 0.024
1800 1800 6.65 0.037 -0.0165
1850 1850 6.99 0.003 -0.014
1950 1950 6.93 0.0158 -0.006
2000 2000 6.88 -0.0045 -0.024
2100 2100 7.07 0.0135 0.001
2150 2150 7.20 0.028 0.0158
2250 2250 7.42 -0.010 -0.0195
2300 2300 6.52 0.0068 -0.008
2400 2400 7.69 -0.005 -0.040
2450 2450 7.42 -0.032 -0.049
2550 2550 8.13 -0.011 -0.025
2600 2600 8.18 -0.023 -0.037
2700 2700 8.06 0.0068 -0.007
2750 2750 7.60 -0.009 -0.015
2850 2850 6.59 -0.0045 -0.0165
2900 2900 5.89 0.0466 0.0225
3000 3000 7.77 -0.0034 0.005
3050 3050 7.99 0.029 0.0237
3150 3150 6.28 0.0274 0.036
3200 3200 6.62 0.039 0.022
3300 3300 6.95 0.057 0.051
3350 3350 6.76 0.047 0.0274
3450 3450 7.04 -0.005 -0.022
3500 3500 6.89 -0.0045 -0.013
3600 3600 8.09 0.0098 -0.006
3650 3650 7.72 -0.0015 -0.019
3750 3750 7.58 0.009 -0.011
3800 3800 6.55 0.021 -0.0045
3900 3900 6.97 0.033 0.034
3950 3950 6.97 0.0455 0.028
4050 4050 6.15 0.022 0.008
4100 4100 6.42 0.006 -0.002
4200 4200 5.04 0.0838 0.101
4250 4250 6.73 -0.008 -0.0195
4350 4350 7.34 -0.0146 -0.025
4400 4352 7.66 0.0068 -0.011
4500 4500 7.17 0.052 0.0375
4550 4550 6.83 0.011 -0.002
4650 4650 8.02 0.001 -0.004
4700 4700 7.78 -0.004 -0.013
4800 4800 7.25 0.038 0.030
4850 4850 7.38 0.043 0.0255
4950 4950 6.71 0.0687 0.0676
5000 5000 6.48 0.011 0.039
}\ptC
\pgfplotstableread{
dep dy y bl or
0 0 0.3098 0.043 0.003
50 50 0.3186 0.0166 -0.012
150 150 0.320 0.064 0.021
200 200 0.3464 0.0536 0.026
300 300 0.3556 0.056 0.0257
350 350 0.3549 0.0596 0.039
450 450 0.359 0.037 0.014
500 500 0.3725 0.019 -0.002
600 600 0.3715 0.031 0.016
650 650 0.3536 0.0257 0.0196
750 750 0.325 0.089 0.0717
800 800 0.3512 0.0106 -0.002
900 900 0.354 0 -0.016
950 950 0.3495 0.0347 0.0075
1050 1050 0.3814 -0.0815 -0.114
1100 1100 0.3888 -0.034 -0.065
1200 1200 0.3708 -0.0325 -0.066
1250 1250 0.324 0.048 0.019
1350 1350 0.3742 0.006 -0.027
1400 1400 0.3342 0.027 -0.004
1500 1500 0.3258 0.0045 -0.015
1550 1550 0.3556 0.003 -0.0106
1650 1650 0.3027 0.064 0.030
1700 1700 0.2956 0.0868 0.056
1800 1800 0.3264 0.050 0.016
1850 1850 0.3525 0.024 0.005
1950 1950 0.3583 0.009 -0.018
2000 2000 0.3546 0.048 0.0355
2100 2100 0.3614 0.024 0.0136
2150 2150 0.364 0.019 0.016
2250 2250 0.3814 -0.0136 -0.0226
2300 2300 0.3312 0.0468 0.045
2400 2400 0.3763 -0.021 -0.036
2450 2450 0.3586 0.009 -0.003
2550 2550 0.3854 -0.0287 -0.040
2600 2600 0.3834 -0.0287 -0.040
2700 2700 0.3814 -0.018 -0.027
2750 2750 0.3461 0.005 0.0083
2850 2850 0.3156 0.0106 0.0075
2900 2900 0.2864 0.0845 0.069
3000 3000 0.364 -0.0287 -0.036
3050 3050 0.3824 -0.0438 -0.056
3150 3150 0.2871 0.0883 0.070
3200 3200 0.3261 0.024 0.028
3300 3300 0.3586 -0.036 -0.0075
3350 3350 0.3492 0.005 0.018
3450 3450 0.3549 -0.021 0.005
3500 3500 0.3353 -0.0098 0.0257
3600 3600 0.3824 -0.050 -0.036
3650 3650 0.3688 -0.021 -0.006
3750 3750 0.3614 -0.0174 -0.0098
3800 3800 0.3068 0.0566 0.058
3900 3900 0.3336 -0.0136 -0.0136
3950 3950 0.298 0.1026 0.1026
4050 4050 0.2986 0.028 0.029
4100 4100 0.3054 0.005 0.0317
4200 4200 nan 0.1675 0.1336
4250 4250 0.3197 -0.002 0.0113
4350 4350 0.398 -0.025 0.021
4400 4352 0.3742 -0.060 -0.0174
4500 4500 0.3722 -0.056 -0.0174
4550 4550 0.3312 0.003 0.0347
4650 4650 0.3797 -0.059 -0.012
4700 4700 0.3624 -0.0174 0.030
4800 4800 0.3393 -0.025 0.009
4850 4850 0.359 -0.025 0.009
4950 4950 0.321 -0.021 0.018
5000 5000 0.3037 0 0.0415
}\ptD
\pgfplotstableread{
dep bl or
0 -0.025 0.041
50 -0.0087 0.046
150 -0.042 0.0125
200 -0.052 -0.0117
300 -0.0306 -0.0026
350 -0.039 -0.0147
450 -0.0306 -0.0045
500 -0.0177 0.0072
600 -0.020 0.0026
650 -0.021 0.0015
750 -0.0438 -0.0155
800 -0.025 0.004
900 0.0083 0.0336
950 -0.025 0.0023
1050 0.068 0.081
1100 0.0457 0.044
1200 0.0306 0.0457
1250 -0.0374 -0.0094
1350 0.0166 0.0234
1400 -0.0125 0.0117
1500 -0.006 0.0155
1550 -0.0026 0.0098
1650 -0.0155 0.011
1700 -0.0268 -0.004
1800 -0.006 0.0098
1850 -0.004 -0.005
1950 0 0.0098
2000 -0.0275 -0.0275
2100 0.0026 -0.004
2150 0.011 0.0023
2250 0.0166 0.002
2300 -0.0125 -0.0275
2400 0.0185 0.011
2450 -0.0117 -0.018
2550 0.0317 0.0147
2600 0.024 0.0098
2700 0.0374 0.0192
2750 0.011 0
2850 -0.0147 -0.0087
2900 -0.021 -0.014
3000 0.026 0.0155
3050 0.057 0.0374
3150 0.0026 -0.0143
3200 -0.004 -0.005
3300 0.043 0.0177
3350 0.0128 -0.004
3450 0 -0.020
3500 0.0053 -0.0185
3600 0.0487 0.0192
3650 0.0238 -0.005
3750 0.0238 0.001
3800 -0.0128 -0.021
3900 0.028 0.0166
3950 0.0015 -0.0125
4050 0.0023 -0.004
4100 -0.016 -0.008
4200 -0.001 -0.008
4250 -0.0185 -0.0117
4350 -0.007 -0.0343
4400 0.029 -0.008
4500 0.049 0.016
4550 0.0034 -0.0174
4650 0.043 0.0045
4700 0.021 -0.0147
4800 0.044 0.0158
4850 0.036 0.0072
4950 0.056 0.0287
5000 0.0185 -0.003
}\ptE
\pgfplotstableread{
dep bl or
0 -0.025 0.075
50 -0.002 0.071
150 -0.061 0.020
200 -0.091 -0.037
300 -0.049 -0.011
350 -0.070 -0.044
450 -0.042 -0.005
500 -0.045 -0.0136
600 -0.063 -0.035
650 -0.019 0.0015
750 -0.083 -0.045
800 -0.042 -0.002
900 0.034 0.069
950 -0.051 -0.011
1050 0.111 0.126
1100 0.043 0.066
1200 -0.029 -0.0045
1250 -0.067 -0.025
1350 0.013 0.024
1400 -0.019 0.020
1500 -0.002 0.0143
1550 -0.004 0.0143
1650 -0.006 0.028
1700 -0.029 0
1800 0.005 0.022
1850 0.013 -0.004
1950 0.005 0.009
2000 0.016 -0.045
2100 0.023 0.0106
2150 0.013 -0.002
2250 0.032 0.0015
2300 0.005 -0.057
2400 0.005 0.022
2450 0.013 -0.045
2550 0.060 0.037
2600 0.052 0.0257
2700 0.079 0.0506
2750 0.011 -0.0098
2850 0.009 -0.0234
2900 -0.019 -0.027
3000 0.058 0.0415
3050 0.102 0.0785
3150 -0.008 -0.044
3200 -0.014 -0.021
3300 0.086 0.039
3350 0.034 0.005
3450 0 -0.036
3500 0.009 -0.0415
3600 0.073 0.0294
3650 0.039 -0.002
3750 0.020 -0.0083
3800 -0.023 -0.0385
3900 0.054 0.041
3950 0.023 0.0075
4050 -0.008 -0.027
4100 0.014 -0.0136
4200 -0.078 -0.052
4250 -0.021 -0.021
4350 -0.017 -0.0536
4400 0.058 0.0128
4500 0.103 0.060
4550 0.020 -0.004
4650 0.066 0.0128
4700 0.058 0.0068
4800 0.066 0.024
4850 0.073 0.041
4950 0.096 0.0566
5000 0 -0.034
}\ptF
\pgfplotstableread{
dep dy y bl or
0 0 16.36 -0.0645 0.0468
50 50 16.14 -0.047 0.068
150 150 16.23 -0.067 0.030
200 200 17.80 -0.091 -0.0117
300 300 17.73 -0.070 -0.011
350 350 17.87 -0.090 -0.028
450 450 17.69 -0.064 -0.002
500 500 17.53 -0.0366 0.015
600 600 17.80 -0.0366 0.0068
650 650 17.26 -0.0536 0.0087
750 750 16.56 -0.0475 0.0068
800 800 16.81 -0.053 0.006
900 900 16.77 0.030 0.0747
950 950 17.19 -0.0385 -0.002
1050 1050 18.23 0.042 0.0615
1100 1100 19.49 0.0015 0.021
1200 1200 17.87 0.011 0.0223
1250 1250 16.36 -0.0626 -0.027
1350 1350 19.20 0.019 0.009
1400 1400 16.09 -0.0147 0.006
1500 1500 16.20 -0.031 0
1550 1550 17.80 0.006 0.018
1650 1650 15.32 -0.002 0.025
1700 1700 15.01 -0.0174 0.0117
1800 1800 16.23 0 0.0117
1850 1850 17.01 0.0034 -0.024
1950 1950 16.56 0 -0.011
2000 2000 16.56 -0.0377 -0.0457
2100 2100 16.92 0.0075 -0.0064
2150 2150 17.26 0.0317 0.0147
2250 2250 17.55 0.003 -0.014
2300 2300 15.77 -0.031 -0.0355
2400 2400 18.12 0.0287 -0.0038
2450 2450 17.64 0.031 -0.0506
2550 2550 18.97 0.0445 0.0015
2600 2600 18.97 0.031 -0.010
2700 2700 18.97 0.057 0.0068
2750 2750 17.94 0.021 -0.010
2850 2850 15.89 -0.0325 -0.0147
2900 2900 14.36 -0.034 -0.0385
3000 3000 18.32 0.039 0
3050 3050 18.77 0.091 0.030
3150 3150 15.14 -0.0045 -0.019
3200 3200 15.89 0.031 0.0098
3300 3300 16.61 0.0706 0.049
3350 3350 16.18 0.045 0.0166
3450 3450 16.92 -0.0136 -0.034
3500 3500 16.52 -0.0147 -0.024
3600 3600 18.93 0.074 0.018
3650 3650 18.18 0.038 -0.0072
3750 3750 18.00 0.038 -0.0072
3800 3800 15.64 0.0087 -0.0136
3900 3900 16.47 0.060 0.025
3950 3950 16.45 0.074 0.0358
4050 4050 14.81 -0.011 -0.022
4100 4100 15.44 -0.028 -0.030
4200 4200 12.40 -0.0287 -0.022
4250 4250 16.07 -0.0166 -0.034
4350 4350 17.33 0.0034 -0.030
4400 4352 17.98 0.050 0.0026
4500 4500 17.08 0.080 0.041
4550 4550 16.34 0.0098 -0.009
4650 4650 18.84 0.0525 0.006
4700 4700 18.32 0.035 -0.009
4800 4800 17.26 0.0657 0.033
4850 4850 17.49 0.0815 0.036
4950 4950 16.11 0.082 0.071
5000 5000 15.55 -0.006 0.0023
}\ptG
\pgfplotstableread{
dep dy y bl or
0 0 0.7616 0.0106 -0.0777
50 50 0.776 -0.0226 -0.0725
150 150 0.782 0.059 -0.012
200 200 0.844 0.0634 0.0257
300 300 0.8746 0.0226 -0.004
350 350 0.8746 0.0128 0.019
450 450 0.870 0.030 0.0106
500 500 0.8938 0.0166 -0.0045
600 600 0.9006 0.024 0.003
650 650 0.8588 0.003 0.005
750 750 0.7785 0.0875 0.056
800 800 0.8542 0.0226 -0.0098
900 900 0.8497 0.0075 -0.0287
950 950 0.8497 0.0347 -0.0075
1050 1050 0.9164 -0.148 -0.168
1100 1100 0.920 -0.100 -0.108
1200 1200 0.898 -0.076 -0.109
1250 1250 0.786 0.048 0
1350 1350 0.886 -0.033 -0.060
1400 1400 0.802 0.0226 -0.0325
1500 1500 0.780 -0.015 -0.042
1550 1550 0.846 0.0166 -0.0098
1650 1650 0.7345 0.0445 -0.0098
1700 1700 0.7175 0.067 0.022
1800 1800 0.797 0.0166 -0.019
1850 1850 0.854 0 -0.012
1950 1950 0.8576 -0.019 -0.035
2000 2000 0.855 0.0445 0.0355
2100 2100 0.8655 0.009 0.005
2150 2150 0.8723 0 0.009
2250 2250 0.9017 -0.045 -0.0196
2300 2300 0.802 0.039 0.045
2400 2400 0.886 -0.021 -0.036
2450 2450 0.851 0.014 0.0015
2550 2550 0.8994 -0.0325 -0.042
2600 2600 0.8927 -0.0475 -0.036
2700 2700 0.897 -0.0566 -0.050
2750 2750 0.818 -0.006 -0.012
2850 2850 0.7616 -0.0136 -0.021
2900 2900 0.697 0.050 0.0257
3000 3000 0.8565 -0.036 -0.0438
3050 3050 0.898 -0.0815 -0.0815
3150 3150 0.6915 0.050 0.0257
3200 3200 0.784 0.030 0.0257
3300 3300 0.8588 -0.0566 -0.006
3350 3350 0.836 0.0075 0.028
3450 3450 0.852 -0.0136 0.028
3500 3500 0.8056 -0.0287 0.0317
3600 3600 0.895 -0.074 -0.0385
3650 3650 0.869 -0.0287 0.005
3750 3750 0.8576 -0.031 -0.012
3800 3800 0.7345 0.048 0.0543
3900 3900 0.7876 -0.021 -0.0264
3950 3950 0.705 0.073 0.077
4050 4050 0.7186 -0.0325 -0.0098
4100 4100 0.7333 0.0015 0.003
4200 4200 0.5842 0.0257 -0.006
4250 4250 0.765 -0.0136 -0.002
4350 4350 0.8836 0.020 0.0732
4400 4352 0.9333 -0.035 0.0257
4500 4500 0.886 -0.066 -0.006
4550 4550 0.792 0.003 0.0445
4650 4650 0.895 -0.078 -0.0075
4700 4700 0.854 -0.0287 0.0355
4800 4800 0.8068 -0.070 -0.015
4850 4850 0.8497 -0.0325 0.0128
4950 4950 0.7706 -0.085 -0.0196
5000 5000 0.7288 -0.060 0.0106
}\ptH

\begin{document}
\fontsize{10}{12}\selectfont
\begin{tikzpicture}
\useasboundingbox (0,0) rectangle (680pt,713.5pt);

% ===== left column =====
\begin{axis}[dA, at={(45pt,529.3pt)}, height=88.4pt]
\deltadots{\ptA}
\end{axis}
\begin{axis}[curve, at={(45pt,596pt)}, height=88.85pt, ymin=2.8, ymax=3.3,
  ytick={2.8,2.9,3,3.1,3.2,3.3}, ylabel={ln(Al/Ti)}]
\twolines{\curA}{0.6pt}
\yeldots{\ptA}
\end{axis}

\begin{axis}[dB, nox, at={(45pt,359.35pt)}, height=87pt]
\deltadots{\ptB}
\end{axis}
\begin{axis}[curve, at={(45pt,435.15pt)}, height=99.8pt, ymin=1, ymax=1.45,
  ytick={1,1.1,1.2,1.3,1.4}, minor ytick={1.05,1.15,1.25,1.35,1.45}, ylabel={ln(Al/K)}]
\twolines{\curB}{0.6pt}
\yeldots{\ptB}
\end{axis}

\begin{axis}[dA, at={(45pt,199.55pt)}, height=88.1pt]
\deltadots{\ptC}
\end{axis}
\begin{axis}[curve, at={(45pt,273pt)}, height=88.35pt, ymin=5, ymax=9,
  ytick={5,6,7,8,9}, minor ytick={5.5,6.5,7.5,8.5}, ylabel={Al\%}]
\twolines{\curC}{0.8pt}
\yeldots{\ptC}
\end{axis}

\begin{axis}[dB, depthax, at={(45pt,28.85pt)}, height=88.3pt]
\deltadots{\ptD}
\end{axis}
\begin{axis}[curve, at={(45pt,103.65pt)}, height=88.55pt, ymin=0.24, ymax=0.42,
  ytick={0.24,0.28,0.32,0.36,0.4}, minor ytick={0.26,0.3,0.34,0.38,0.42}, ylabel={Ti\%}]
\twolines{\curD}{0.8pt}
\yeldots{\ptD}
\end{axis}

% ===== right column =====
\begin{axis}[dA, at={(369pt,529.3pt)}, height=88.4pt]
\deltadots{\ptE}
\end{axis}
\begin{axis}[curve, at={(369pt,596pt)}, height=88.85pt, ymin=2.6, ymax=3.4,
  ytick={2.6,2.8,3,3.2,3.4}, minor ytick={2.7,2.9,3.1,3.3}, ylabel={ln(Al/Ti)}]
\twolines{\curE}{0.6pt}
\yeldots{\ptA}
\end{axis}

\begin{axis}[dB, nox, at={(369pt,359.35pt)}, height=87pt]
\deltadots{\ptF}
\end{axis}
\begin{axis}[curve, at={(369pt,435.15pt)}, height=99.8pt, ymin=1, ymax=1.45,
  ytick={1,1.1,1.2,1.3,1.4}, minor ytick={1.05,1.15,1.25,1.35,1.45}, ylabel={ln(Al/K)}]
\twolines{\curF}{0.6pt}
\yeldots{\ptB}
\end{axis}

\begin{axis}[dA, at={(369pt,199.55pt)}, height=88.1pt]
\deltadots{\ptG}
\end{axis}
\begin{axis}[curve, at={(369pt,272.85pt)}, height=88.8pt, ymin=10, ymax=22,
  ytick={12,16,20}, minor ytick={10,11,13,14,15,17,18,19,21,22}, ylabel={Al\%}]
\twolines{\curG}{0.8pt}
\yeldots{\ptG}
\end{axis}

\begin{axis}[dB, depthax, at={(369pt,28.85pt)}, height=88.3pt]
\deltadots{\ptH}
\end{axis}
\begin{axis}[curve, at={(369pt,103.6pt)}, height=88.5pt, ymin=0.5, ymax=1.1,
  ytick={0.6,0.8,1}, minor ytick={0.5,0.7,0.9,1.1}, ylabel={Ti\%}]
\twolines{\curH}{0.8pt}
\yeldots{\ptH}
\end{axis}

% panel letters
\node at (60.5pt,679pt) {a)};
\node at (60.5pt,521.5pt) {b)};
\node at (60.5pt,348.5pt) {c)};
\node at (60.5pt,190.2pt) {d)};
\node at (389pt,679pt) {e)};
\node at (389pt,521.5pt) {f)};
\node at (389pt,348pt) {g)};
\node at (389pt,190.2pt) {h)};
\end{tikzpicture}
\end{document}
